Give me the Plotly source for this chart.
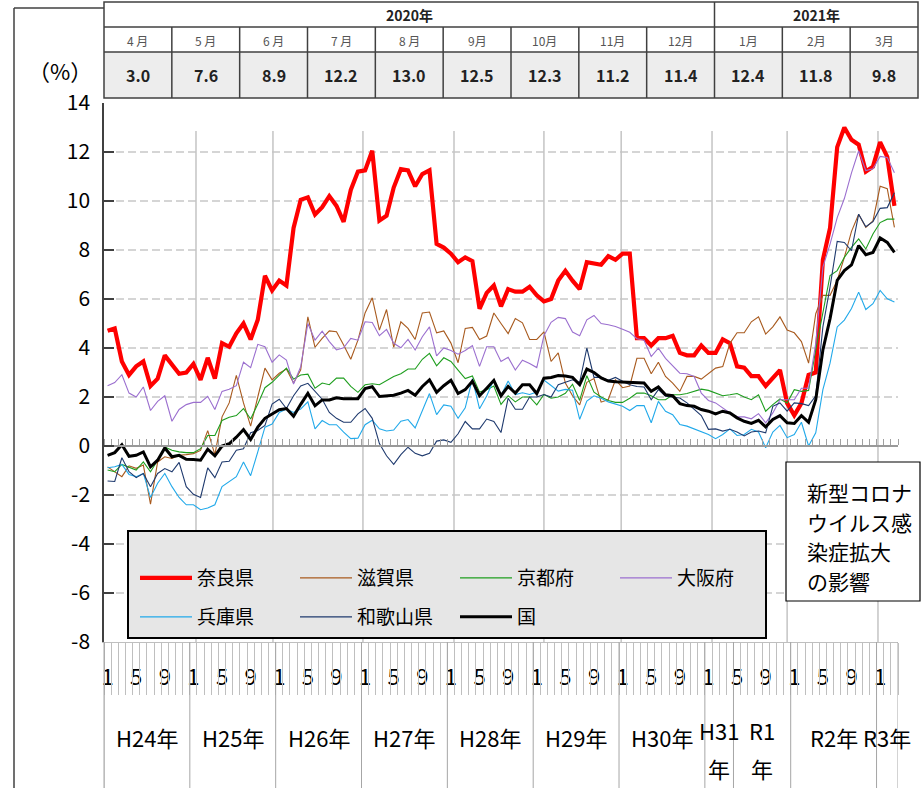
import plotly.graph_objects as go

# ---------------- data ----------------
nara = [4.7, 4.8, 3.45, 2.9, 3.25, 3.45, 2.45, 2.75, 3.7, 3.35, 2.95, 3.0,
        3.35, 2.7, 3.6, 2.75, 4.2, 4.05, 4.6, 5.0, 4.35, 5.15, 6.95, 6.35,
        6.75, 6.55, 8.9, 10.05, 10.15, 9.45, 9.75, 10.2, 9.8, 9.15, 10.45, 11.2,
        11.25, 12.05, 9.2, 9.4, 10.55, 11.3, 11.25, 10.6, 11.1, 11.25, 8.25, 8.1,
        7.85, 7.5, 7.7, 7.55, 5.6, 6.25, 6.55, 5.7, 6.4, 6.3, 6.3, 6.5,
        6.15, 5.9, 6.0, 6.75, 7.15, 6.75, 6.4, 7.5, 7.45, 7.4, 7.75, 7.6,
        7.85, 7.85, 4.4, 4.4, 4.1, 4.4, 4.4, 4.5, 3.8, 3.7, 3.7, 4.1,
        3.8, 3.8, 4.35, 4.2, 3.25, 3.2, 2.85, 2.85, 2.45, 2.75, 3.1, 1.75,
        1.25, 1.75, 2.9, 3.0, 7.6, 8.9, 12.2, 13.0, 12.5, 12.3, 11.2, 11.4,
        12.4, 11.8, 9.8]

shiga = [-0.85, -1.05, -1.25, -0.81, -0.91, -0.78, -2.37, -0.65, -0.44, -0.51, -0.38, -0.35,
         -0.31, -0.18, 0.63, -0.35, 1.19, 1.76, 2.88, 1.76, 0.81, 2.0, 3.18, 2.7,
         2.97, 3.14, 2.57, 3.11, 5.27, 4.03, 4.39, 4.7, 4.66, 4.12, 3.54, 4.32,
         5.43, 6.05, 4.73, 5.57, 4.03, 5.07, 4.8, 4.35, 5.43, 5.47, 4.62, 4.7,
         4.2, 3.4, 4.8, 4.84, 4.35, 4.49, 5.43, 5.0, 4.59, 5.2, 5.03, 4.35,
         4.35, 4.66, 3.45, 3.8, 2.57, 2.05, 1.68, 2.6, 2.75, 1.79, 1.9, 2.7,
         2.38, 2.45, 3.58, 3.58, 2.95, 3.42, 2.84, 2.57, 2.23, 2.84, 2.84, 2.73,
         2.97, 3.18, 3.24, 4.19, 4.62, 4.62, 5.07, 5.27, 4.57, 4.86, 5.27, 4.73,
         4.62, 4.26, 3.38, 5.4, 6.15, 6.15, 6.76, 7.7, 8.76, 9.46, 8.92, 9.19,
         10.6, 10.5, 8.92]

kyoto = [-0.98, -1.05, -0.75, -0.85, -0.98, -0.65, -1.05, -0.58, -0.04, -0.17, -0.24, -0.27,
         -0.27, -0.11, 0.43, 0.43, 1.04, 1.17, 1.24, 1.53, 1.1, 1.71, 2.38, 2.6,
         2.9, 3.18, 2.73, 2.9, 2.93, 2.36, 2.57, 2.5, 2.77, 2.77, 2.43, 2.19,
         2.5, 2.54, 2.5, 2.68, 2.84, 2.95, 3.14, 3.14, 3.54, 3.78, 3.27, 3.6,
         3.45, 3.1, 2.75, 2.86, 2.2, 2.3, 2.45, 1.7, 2.05, 1.8, 2.0, 2.0,
         1.68, 2.1, 1.95, 2.0, 2.15, 2.52, 1.86, 2.87, 2.2, 2.0, 1.86, 1.78,
         1.78, 1.95, 2.16, 2.16, 2.05, 1.89, 1.89, 2.09, 2.09, 2.14, 2.23, 2.32,
         2.27, 2.16, 2.05, 2.09, 2.14, 2.0, 1.89, 2.09, 1.42, 1.69, 1.92, 1.76,
         2.3, 2.23, 2.27, 3.92, 5.4, 6.96, 7.16, 7.7, 8.11, 8.45, 8.04, 8.65,
         9.12, 9.26, 9.26]

osaka = [2.46, 2.59, 2.91, 2.16, 2.0, 2.41, 1.45, 1.82, 2.05, 1.01, 1.49, 1.69,
         1.78, 1.78, 2.03, 1.49, 2.23, 2.32, 2.46, 3.42, 3.2, 4.15, 4.05, 3.42,
         3.72, 3.51, 2.53, 3.24, 5.0, 4.32, 4.69, 4.26, 3.92, 4.01, 4.39, 4.32,
         5.07, 5.04, 4.5, 4.76, 4.19, 4.01, 4.35, 3.92, 4.46, 4.86, 3.68, 4.0,
         3.9, 3.75, 3.9, 4.1, 3.25, 4.05, 4.05, 3.45, 3.62, 3.1, 3.5, 3.37,
         3.2, 4.5, 5.05, 5.25, 5.2, 4.65, 4.5, 5.15, 5.33, 5.0, 4.95, 4.88,
         4.77, 4.64, 4.38, 4.32, 3.65, 3.99, 3.58, 3.27, 2.97, 2.95, 2.84, 2.16,
         1.86, 1.76, 1.55, 1.35, 1.19, 1.19, 1.11, 1.32, 0.95, 1.35, 1.89, 1.89,
         1.89, 2.36, 2.36, 4.19, 7.3, 8.24, 9.32, 10.1, 11.15, 12.05, 11.24, 11.32,
         11.82, 11.78, 11.15]

hyogo = [-0.89, -0.85, -0.75, -1.16, -1.25, -1.12, -2.1, -1.52, -1.12, -1.66, -2.1, -2.4,
         -2.4, -2.6, -2.53, -2.4, -1.66, -1.45, -1.25, -0.65, -1.21, -0.24, 0.77, 0.9,
         1.37, 1.51, 1.37, 1.51, 1.8, 0.7, 1.04, 0.87, 0.87, 0.57, 0.3, 0.32,
         0.87, 1.05, 0.7, 0.61, 0.65, 1.01, 1.08, 0.74, 1.42, 2.14, 1.28, 1.68,
         1.62, 1.13, 1.56, 2.74, 1.52, 2.04, 2.71, 2.06, 2.65, 2.1, 2.17, 2.1,
         2.2, 2.69, 2.47, 2.24, 2.31, 2.28, 1.09, 1.83, 2.05, 1.95, 1.8, 1.72,
         1.62, 1.45, 1.65, 1.65, 0.95, 1.82, 1.42, 1.28, 0.88, 0.81, 0.7, 0.61,
         0.47, 0.3, 0.47, 0.7, 0.43, 0.47, 0.68, 0.57, -0.07, 0.57, 0.84, 0.34,
         0.47, 0.97, 0.0, 0.54, 2.3, 3.38, 4.86, 5.14, 5.61, 6.28, 5.57, 5.81,
         6.35, 6.01, 5.88]

wakayama = [-1.43, -1.45, -0.48, -1.05, -1.29, -1.12, -1.66, -1.12, -0.92, -1.05, -0.67, -1.66,
            -1.97, -2.1, -0.89, -1.29, -0.65, -0.62, -0.17, -0.11, 0.54, 0.63, 0.84, 1.71,
            1.91, 1.53, 2.05, 2.45, 2.56, 2.25, 1.91, 1.37, 1.13, 0.97, 0.97, 1.31,
            1.53, 1.13, 0.1, -0.4, -0.75, -0.35, -0.05, -0.3, -0.4, -0.3, 0.2, 0.25,
            0.15, 0.5, 1.0, 0.7, 0.7, 1.1, 1.0, 0.55, 1.95, 1.5, 1.5, 2.0,
            2.0, 2.1, 2.0, 2.5, 2.6, 2.7, 2.6, 4.0, 2.8, 2.8, 2.68, 2.8,
            2.64, 2.5, 2.43, 2.41, 1.89, 2.3, 2.03, 2.0, 1.96, 1.76, 1.49, 1.24,
            0.68, 0.7, 0.61, 0.68, 0.57, 0.41, 0.57, 0.61, 0.54, 1.62, 1.76, 1.42,
            1.76, 1.73, 1.65, 2.05, 4.86, 6.49, 8.35, 8.31, 7.97, 9.46, 8.95, 9.16,
            9.7, 9.73, 10.34]

national = [-0.38, -0.27, 0.05, -0.42, -0.38, -0.24, -0.85, -0.58, -0.08, -0.44, -0.38, -0.54,
            -0.55, -0.58, -0.13, -0.4, 0.0, 0.09, 0.36, 0.67, 0.27, 0.77, 1.13, 1.31,
            1.48, 1.53, 1.21, 1.7, 2.15, 1.64, 1.88, 1.88, 1.97, 1.93, 1.93, 1.93,
            2.34, 2.42, 2.02, 2.05, 2.07, 2.16, 2.27, 2.07, 2.43, 2.7, 2.19, 2.46,
            2.68, 2.14, 2.3, 2.64, 2.05, 2.36, 2.68, 2.05, 2.43, 2.16, 2.5, 2.5,
            2.14, 2.77, 2.8, 2.88, 2.86, 2.8, 2.5, 3.14, 3.0, 2.78, 2.65, 2.62,
            2.6, 2.6, 2.57, 2.57, 2.23, 2.41, 2.09, 2.05, 1.73, 1.65, 1.62, 1.49,
            1.42, 1.31, 1.42, 1.35, 1.15, 1.01, 0.92, 1.05, 0.78, 1.08, 1.24, 0.95,
            0.92, 1.24, 0.97, 1.89, 3.92, 5.2, 6.76, 7.16, 7.39, 8.18, 7.81, 7.9,
            8.49, 8.31, 7.9]

series_names = ["奈良県", "滋賀県", "京都府", "大阪府", "兵庫県", "和歌山県", "国"]
series_values = [nara, shiga, kyoto, osaka, hyogo, wakayama, national]

# month number of each point (Jan 2012 .. Mar 2021)
month_numbers = [(i % 12) + 1 for i in range(len(nara))]
month_tick_labels = ["1", "5", "9"]

# era-year labels and how many months each covers
year_labels = ["H24年", "H25年", "H26年", "H27年", "H28年", "H29年", "H30年",
               "H31年", "R1年", "R2年", "R3年"]
year_lengths = [12, 12, 12, 12, 12, 12, 12, 4, 8, 12, 3]
wrapped_years = ["H31年", "R1年"]

y_tick_values = [-8, -6, -4, -2, 0, 2, 4, 6, 8, 10, 12, 14]
y_tick_labels = ["-8", "-6", "-4", "-2", "0", "2", "4", "6", "8", "10", "12", "14"]

# top table (Nara, Apr 2020 - Mar 2021)
table_years = ["2020年", "2021年"]
table_year_spans = [9, 3]
table_months = ["4 月", "5 月", "6 月", "7 月", "8 月", "9月", "10月", "11月", "12月",
                "1月", "2月", "3月"]
table_values = [f"{v:.1f}" for v in nara[-12:]]

note_lines = ["新型コロナ", "ウイルス感", "染症拡大", "の影響"]

# ---------------- styles ----------------
colors = ["#FF0000", "#A85A1E", "#1E9E1E", "#9B6FCF", "#21A9EA", "#1F3A6E", "#000000"]
widths = [4.2, 1.1, 1.1, 1.1, 1.1, 1.1, 3.0]
legend_of = ["legend", "legend", "legend", "legend", "legend2", "legend2", "legend2"]

W, H = 921, 788
ML, MR, MT, MB = 104, 23, 103, 146
PW, PH = W - ML - MR, H - MT - MB


def px(x):
    return (x - ML) / PW


def py(y):
    return (H - MB - y) / PH


JP = "Noto Sans CJK JP"
n = len(nara)
idx = list(range(n))

fig = go.Figure()
for name, vals, c, w, lg in zip(series_names, series_values, colors, widths, legend_of):
    fig.add_trace(go.Scatter(x=idx, y=vals, mode="lines", name=name,
                             line=dict(color=c, width=w), legend=lg))

# helper (empty) traces so the overlaid axes are drawn
fig.add_trace(go.Scatter(x=[None], y=[None], xaxis="x2", showlegend=False, hoverinfo="skip"))
fig.add_trace(go.Scatter(x=[None], y=[None], xaxis="x3", showlegend=False, hoverinfo="skip"))

xr = [-0.5, n - 0.5]
boundaries = [i - 0.5 for i in range(n + 1)]
label_pos = [i for i in idx if str(month_numbers[i]) in month_tick_labels]
label_txt = [str(month_numbers[i]) for i in label_pos]

shapes = []
annotations = []


def note(x, y, text, size, color="#000", xref="paper", xanchor="center"):
    annotations.append(dict(x=x, y=y, xref=xref, yref="paper", text=text, showarrow=False,
                            xanchor=xanchor, yanchor="middle",
                            font=dict(family=JP, size=size, color=color)))


# horizontal dashed gridlines
for v in y_tick_values:
    if v in (-8, 0, 14):
        continue
    shapes.append(dict(type="line", xref="paper", yref="y", x0=0, x1=1, y0=v, y1=v,
                       line=dict(color="#C8C8C8", width=1.4, dash="8px,4px"), layer="below"))

# vertical separator lines inside the plot (drawn lines, near year boundaries)
vline_pos = [12.36, 23.12, 35.7, 48.43, 61.0, 71.8, 84.5, 95.0, 107.7]
for xv in vline_pos:
    shapes.append(dict(type="line", xref="x", yref="y", x0=xv, x1=xv, y0=-8, y1=12.86,
                       line=dict(color="#C4C4C4", width=1.5), layer="below"))

# year boundaries in the label area
b = -0.5
yb = [b]
for L in year_lengths:
    b += L
    yb.append(b)
for xv in yb:
    shapes.append(dict(type="line", xref="x", yref="paper", x0=xv, x1=xv, y0=0, y1=py(788),
                       line=dict(color="#A6A6A6", width=1)))

# year labels
start = 0
for lab, L in zip(year_labels, year_lengths):
    cx = start + (L - 1) / 2
    if lab in wrapped_years:
        note(cx, py(730), lab[:-1], 22, xref="x")
        note(cx, py(768), lab[-1], 22, xref="x")
    else:
        note(cx, py(737), lab, 22, xref="x")
    start += L

# y axis line extension into label area
shapes.append(dict(type="line", xref="paper", yref="paper", x0=0, x1=0, y0=0, y1=py(788),
                   line=dict(color="#A6A6A6", width=1)))

# outer frame (left + top)
shapes.append(dict(type="line", xref="paper", yref="paper", x0=px(14), x1=px(14), y0=py(8), y1=py(788),
                   line=dict(color="#404040", width=1.5)))
shapes.append(dict(type="line", xref="paper", yref="paper", x0=px(14), x1=px(104), y0=py(8), y1=py(8),
                   line=dict(color="#404040", width=1.5)))

# legend box
shapes.append(dict(type="rect", xref="paper", yref="paper", x0=px(128), x1=px(766), y0=py(638), y1=py(531),
                   fillcolor="#E6E6E6", line=dict(color="#000", width=2), layer="above"))

# note box
shapes.append(dict(type="rect", xref="paper", yref="paper", x0=px(786), x1=px(920), y0=py(601), y1=py(462),
                   fillcolor="#FFFFFF", line=dict(color="#000", width=1.2), layer="above"))
for k, t in enumerate(note_lines):
    note(px(805), py(492 + 29.5 * k), t, 21, xanchor="left")

# top table
TL, TR = 104, 918
rows = [2, 27, 52, 98]
cw = (TR - TL) / len(table_months)
shapes.append(dict(type="rect", xref="paper", yref="paper", x0=px(TL), x1=px(TR), y0=py(rows[3]), y1=py(rows[2]),
                   fillcolor="#EDEDED", line=dict(width=0)))
shapes.append(dict(type="rect", xref="paper", yref="paper", x0=px(TL), x1=px(TR), y0=py(rows[3]), y1=py(rows[0]),
                   line=dict(color="#404040", width=1.5)))
for r in rows[1:3]:
    shapes.append(dict(type="line", xref="paper", yref="paper", x0=px(TL), x1=px(TR), y0=py(r), y1=py(r),
                       line=dict(color="#404040", width=1.5)))
span_edges = [0]
for s in table_year_spans:
    span_edges.append(span_edges[-1] + s)
for k in range(1, len(table_months)):
    top = rows[0] if k in span_edges else rows[1]
    xk = TL + k * cw
    shapes.append(dict(type="line", xref="paper", yref="paper", x0=px(xk), x1=px(xk), y0=py(rows[3]), y1=py(top),
                       line=dict(color="#404040", width=1.5)))
for lab, a, bb in zip(table_years, span_edges[:-1], span_edges[1:]):
    note(px(TL + (a + bb) / 2 * cw), py(15), f"<b>{lab}</b>", 14, "#222")
for k, (m, v) in enumerate(zip(table_months, table_values)):
    cx = px(TL + (k + 0.5) * cw)
    note(cx, py(40), m, 12, "#555")
    note(cx, py(75), f"<b>{v}</b>", 16, "#222")

note(px(60), py(70), "（%）", 22)

legend_common = dict(orientation="h", xanchor="left", yanchor="middle", bgcolor="rgba(0,0,0,0)",
                     borderwidth=0, font=dict(family=JP, size=19, color="#000"), itemwidth=52,
                     entrywidth=93, tracegroupgap=0, itemclick=False, itemdoubleclick=False)

fig.update_layout(
    width=W, height=H, margin=dict(l=ML, r=MR, t=MT, b=MB),
    plot_bgcolor="white", paper_bgcolor="white",
    showlegend=True,
    legend=dict(x=px(135), y=py(578), **legend_common),
    legend2=dict(x=px(135), y=py(617), **legend_common),
    xaxis=dict(range=xr, tickvals=label_pos, ticktext=label_txt, ticks="", showline=True,
               linecolor="#BFBFBF", linewidth=1, showgrid=False, zeroline=False,
               tickfont=dict(family=JP, size=22, color="#000"), ticklabelstandoff=16),
    xaxis2=dict(range=xr, overlaying="x", anchor="free", position=8 / 22, side="top",
                tickvals=boundaries, ticks="outside", ticklen=6, tickcolor="#A0A0A0", tickwidth=1,
                showline=True, linecolor="#999999", linewidth=1.5, showticklabels=False,
                showgrid=False, zeroline=False),
    xaxis3=dict(range=xr, overlaying="x", anchor="y", side="bottom",
                tickvals=boundaries, ticks="outside", ticklen=52, tickcolor="#BFBFBF", tickwidth=1,
                showline=False, showticklabels=False, showgrid=False, zeroline=False),
    yaxis=dict(range=[-8, 14], tickvals=y_tick_values, ticktext=y_tick_labels, ticks="inside",
               ticklen=10, tickcolor="#404040", tickwidth=1.5, showline=True, linecolor="#404040",
               linewidth=1.5, showgrid=False, zeroline=False, ticklabelstandoff=8,
               tickfont=dict(family=JP, size=21, color="#000")),
    shapes=shapes, annotations=annotations,
)

fig.write_html("out.html", config={"displayModeBar": False},
               post_script="document.body.style.margin='0';document.body.style.overflow='hidden';")
